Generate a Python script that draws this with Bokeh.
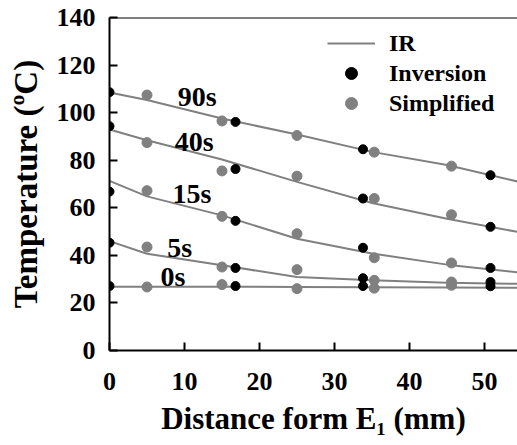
from bokeh.plotting import figure
from bokeh.models import Range1d, Span, Legend, LegendItem, FixedTicker, ColumnDataSource
from bokeh.core.properties import value
from bokeh.embed import file_html
from bokeh.resources import INLINE

# ---- data ----
ir_x = [0, 5, 15, 25, 35, 45, 55]
ir_90 = [108.5, 105.3, 97.5, 90.8, 83.5, 78.0, 70.6]
ir_40 = [92.9, 88.4, 80.3, 70.9, 62.0, 55.4, 49.5]
ir_15 = [71.3, 64.8, 56.8, 47.0, 40.8, 36.1, 32.7]
ir_5 = [46.0, 40.7, 35.8, 30.9, 29.5, 28.5, 28.0]
ir_0 = [26.8, 26.8, 26.8, 26.7, 26.6, 26.5, 26.4]

inv_x = [0, 16.8, 33.8, 50.8]
inv_90 = [108.6, 96.1, 84.6, 73.7]
inv_40 = [94.3, 76.3, 63.9, 52.0]
inv_15 = [66.8, 54.5, 43.2, 34.7]
inv_5 = [45.3, 34.7, 30.4, 28.8]
inv_0 = [27.1, 27.1, 27.1, 27.0]

sim_x = [5, 15, 25, 35.3, 45.6]
sim_90 = [107.4, 96.5, 90.4, 83.4, 77.5]
sim_40 = [87.4, 75.5, 73.3, 63.9, 57.1]
sim_15 = [67.2, 56.4, 49.1, 39.0, 36.8]
sim_5 = [43.5, 35.1, 34.0, 29.5, 28.8]
sim_0 = [26.7, 27.7, 26.0, 26.2, 27.4]

curve_labels = ["90s", "40s", "15s", "5s", "0s"]
label_x = [9.1, 8.7, 8.4, 7.7, 6.8]
label_y = [106.7, 87.7, 66.0, 43.5, 31.2]

x_ticks = [0, 10, 20, 30, 40, 50]
y_ticks = [0, 20, 40, 60, 80, 100, 120, 140]

FONT = "Liberation Serif"
GRAY = "#808080"

p = figure(width=517, height=445, output_backend="svg", toolbar_location=None,
           x_range=Range1d(0, 54.4), y_range=Range1d(0, 140))
p.min_border_left = 109
p.min_border_right = 0
p.min_border_top = 17
p.min_border_bottom = 95
p.outline_line_color = None
p.background_fill_color = "white"
p.border_fill_color = "white"
p.xgrid.visible = False
p.ygrid.visible = False

for ax in (p.xaxis[0], p.yaxis[0]):
    ax.axis_line_width = 2
    ax.axis_line_color = "black"
    ax.major_tick_line_width = 2
    ax.major_tick_line_color = "black"
    ax.major_tick_in = 8
    ax.major_tick_out = 0
    ax.minor_tick_line_color = None
    ax.major_label_text_font = FONT
    ax.major_label_text_font_style = "bold"
    ax.major_label_text_font_size = "26px"
    ax.major_label_text_color = "black"
    ax.axis_label_text_font = FONT
    ax.axis_label_text_font_style = "bold"
    ax.axis_label_text_color = "black"

p.xaxis.axis_label_text_font_size = "31px"
p.yaxis.axis_label_text_font_size = "33px"
p.xaxis.ticker = FixedTicker(ticks=x_ticks)
p.yaxis.ticker = FixedTicker(ticks=y_ticks)
p.xaxis.major_label_standoff = 22
p.yaxis.major_label_standoff = 14
p.xaxis.axis_label = "Distance form E\u2081 (mm)"
p.yaxis.axis_label = "Temperature (\u00baC)"
p.xaxis.axis_label_standoff = 8
p.yaxis.axis_label_standoff = 10

p.add_layout(Span(location=140, dimension="width", line_color="black", line_width=2))

ir_renderers = []
for ys in (ir_90, ir_40, ir_15, ir_5, ir_0):
    r = p.line(ir_x, ys, line_color=GRAY, line_width=2)
    ir_renderers.append(r)

sim_renderers = []
for ys in (sim_90, sim_40, sim_15, sim_5, sim_0):
    r = p.scatter(sim_x, ys, size=10, fill_color=GRAY, line_color=GRAY)
    sim_renderers.append(r)

inv_renderers = []
for ys in (inv_90, inv_40, inv_15, inv_5, inv_0):
    r = p.scatter(inv_x, ys, size=9, fill_color="black", line_color="black")
    inv_renderers.append(r)

src = ColumnDataSource(dict(x=label_x, y=label_y, t=curve_labels))
p.text(x="x", y="y", text="t", source=src, text_font=value(FONT), text_font_style="bold",
       text_font_size="28px", text_baseline="middle", text_align="left", text_color="black")

legend = Legend(items=[
    LegendItem(label="IR", renderers=[ir_renderers[0]]),
    LegendItem(label="Inversion", renderers=[inv_renderers[0]]),
    LegendItem(label="Simplified", renderers=[sim_renderers[0]]),
], location=(218, 232))
legend.glyph_width = 48
legend.glyph_height = 30
legend.label_height = 30
legend.spacing = 0
legend.padding = 0
legend.margin = 0
legend.label_standoff = 14
legend.border_line_color = None
legend.background_fill_alpha = 0
legend.label_text_font = FONT
legend.label_text_font_style = "bold"
legend.label_text_font_size = "24px"
legend.label_text_color = "black"
p.add_layout(legend, "center")

open("out.html", "w").write(file_html(p, INLINE))
